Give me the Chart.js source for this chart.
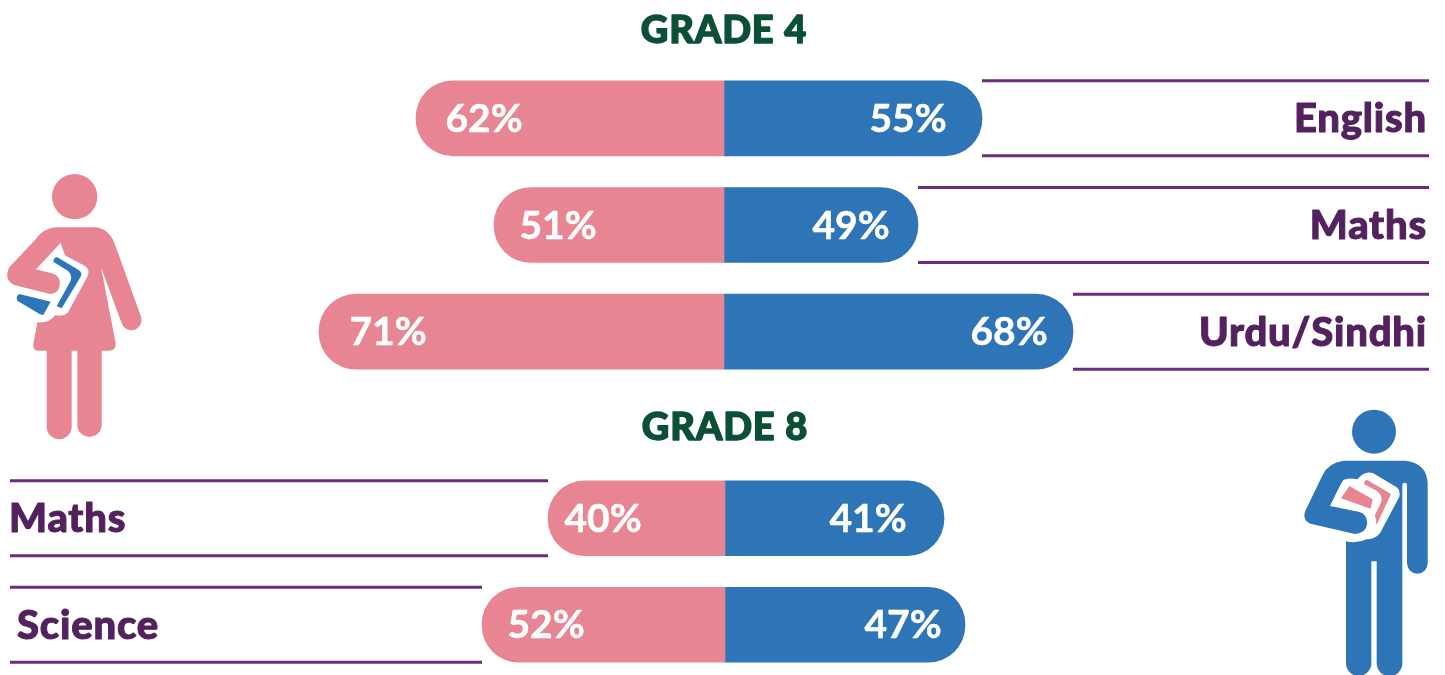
<!DOCTYPE html>
<html>
<head>
<meta charset="utf-8">
<title>Grade 4 and Grade 8 scores</title>
<script src="https://cdn.jsdelivr.net/npm/chart.js@4"></script>
<style>
    html, body { margin: 0; padding: 0; background: #fff; }
    #page { position: relative; width: 1445px; height: 675px; overflow: hidden; }
    #page canvas, #page svg { position: absolute; display: block; }
    #grade4Chart { left: 0; top: 0; }
    #grade8Chart { left: 0; top: 400px; }
    #girlIcon { left: 0; top: 160px; }
    #boyIcon { left: 1280px; top: 400px; }
</style>
</head>
<body>
<div id="page">
    <canvas id="grade4Chart" width="1445" height="390"></canvas>
    <canvas id="grade8Chart" width="1445" height="278"></canvas>

    <svg id="girlIcon" width="160" height="290" viewBox="0 0 480 870">
        <circle cx="224" cy="110" r="68" fill="#E78592"/>
        <path fill="#E78592" d="M165 202 H285 Q330 205 348 262 L423 470 A30 30 0 0 1 365 490 L303 322 L347 550 Q349 572 328 572 H305 V800 A37 37 0 0 1 232 800 V572 H215 V800 A37 37 0 0 1 140 800 V572 H115 Q98 572 100 552 L112 487 L200 300 Z"/>
        <path fill="#fff" d="M165 270 L255 318 Q272 330 262 350 L205 455 Q195 470 165 466 Q150 490 112 487 L100 460 L90 330 Z"/>
        <path fill="#2E75B8" d="M172 292 L236 330 Q248 338 242 350 L185 445 L170 439 L212 362 Q218 345 203 332 L160 305 Q163 290 172 292 Z"/>
        <path fill="#2E75B8" d="M58 402 L152 425 L130 465 L120 463 L52 422 Q46 408 58 402 Z"/>
        <path fill="#E78592" d="M165 202 Q130 205 105 240 L28 322 Q10 358 42 375 L150 402 Q178 402 180 368 Q178 345 155 340 L108 328 L190 240 Z"/>
    </svg>

    <svg id="boyIcon" width="165" height="275" viewBox="0 0 495 825">
        <circle cx="282" cy="95" r="66" fill="#2E75B8"/>
        <path fill="#2E75B8" d="M190 182 H375 Q440 188 443 250 V490 A31 31 0 0 1 381 490 V255 A7 7 0 0 0 367 255 V790 A38 38 0 0 1 290 790 V484 H274 V790 A38 38 0 0 1 198 790 V420 L150 300 Z"/>
        <path fill="#fff" d="M190 240 Q205 232 232 238 Q255 210 280 220 L350 262 Q362 272 358 290 L300 400 Q285 418 260 418 Q230 432 198 424 L140 320 Z"/>
        <path fill="#E78592" d="M208 258 L278 298 L272 326 L183 295 Z"/>
        <path fill="#E78592" d="M262 240 L333 282 L290 374 L285 345 L304 305 Q308 285 290 272 L252 252 Q252 240 262 240 Z"/>
        <path fill="#2E75B8" d="M190 182 Q145 188 128 225 L76 332 Q65 362 95 372 L225 402 Q258 400 262 370 Q260 340 235 335 L150 318 L200 215 Z"/>
    </svg>
</div>

<script>
// what the labels say
const grade4Subjects = ["English", "Maths", "Urdu/Sindhi"];
const grade4GirlsPct = [62, 51, 71];
const grade4BoysPct = [55, 49, 68];
const grade8Subjects = ["Maths", "Science"];
const grade8GirlsPct = [40, 52];
const grade8BoysPct = [41, 47];

// bars in the picture are not to scale with their labels, so lengths are read off separately
const grade4GirlsBar = [61.6, 46, 81];
const grade4BoysBar = [51.6, 38.8, 69.8];
const grade8GirlsBar = [35.4, 48.6];
const grade8BoysBar = [43.8, 48];

const PINK = "#E78592";
const BLUE = "#2E75B8";
const RULE = "#6C2C7C";
const SUBJECT = "#54215F";
const GREEN = "#0B5034";
const FONT = "Lato";

// heavier than the installed weights go, so fatten with a thin stroke
function heavyText(ctx, text, x, y, colour, weight) {
    ctx.fillStyle = colour;
    ctx.strokeStyle = colour;
    ctx.lineWidth = weight;
    ctx.lineJoin = "round";
    ctx.fillText(text, x, y);
    ctx.strokeText(text, x, y);
}

// ------------------------
// titles, rules and text on top of the bars
// ------------------------
const annotate = {
    id: "annotate",
    afterDatasetsDraw(chart, args, opts) {
        const ctx = chart.ctx;
        const x = chart.scales.x;
        const girls = chart.getDatasetMeta(0).data;
        const boys = chart.getDatasetMeta(1).data;

        ctx.save();
        ctx.textBaseline = "middle";

        ctx.textAlign = "center";
        ctx.font = `900 ${opts.titleSize}px ${FONT}`;
        ctx.letterSpacing = "0.8px";
        heavyText(ctx, opts.title, x.getPixelForValue(0), opts.titleY, GREEN, 1.4);

        chart.data.labels.forEach(function (subject, i) {
            const tip = opts.side === "right" ? boys[i].x : girls[i].x;
            const edge = opts.side === "right" ? 1429 : 10;
            const half = boys[i].height / 2;

            ctx.strokeStyle = RULE;
            ctx.lineWidth = 3;
            [boys[i].y - half, boys[i].y + half].forEach(function (y) {
                ctx.beginPath();
                ctx.moveTo(tip, y);
                ctx.lineTo(edge, y);
                ctx.stroke();
            });

            ctx.textAlign = opts.side;
            ctx.font = `900 40px ${FONT}`;
            ctx.letterSpacing = "0.8px";
            heavyText(ctx, subject, opts.subjectX[i], boys[i].y + 1, SUBJECT, 1);

            ctx.textAlign = "center";
            ctx.font = `700 39px ${FONT}`;
            ctx.letterSpacing = "0px";
            heavyText(ctx, opts.girlsPct[i] + "%", girls[i].x + opts.girlsInset[i], girls[i].y + 1, "#fff", 0.5);
            heavyText(ctx, opts.boysPct[i] + "%", boys[i].x - opts.boysInset[i], boys[i].y + 1, "#fff", 0.5);
        });
        ctx.restore();
    }
};

function drawGrade(id, subjects, girlsBar, boysBar, centre, bottomPad, opts) {
    const radius = 37;
    new Chart(document.getElementById(id).getContext("2d"), {
        type: "bar",
        data: {
            labels: subjects,
            datasets: [
                {
                    label: "Girls",
                    data: girlsBar.map(v => -v),
                    backgroundColor: PINK,
                    borderSkipped: false,
                    borderRadius: { topLeft: radius, bottomLeft: radius, topRight: 0, bottomRight: 0 }
                },
                {
                    label: "Boys",
                    data: boysBar,
                    backgroundColor: BLUE,
                    borderSkipped: false,
                    borderRadius: { topLeft: 0, bottomLeft: 0, topRight: radius, bottomRight: radius }
                }
            ]
        },
        options: {
            indexAxis: "y",
            responsive: false,
            animation: false,
            barThickness: 75,
            layout: { padding: { top: 65, bottom: bottomPad, left: 0, right: 0 } },
            scales: {
                x: { stacked: true, display: false, min: -centre / 5, max: (1445 - centre) / 5 },
                y: { stacked: true, display: false }
            },
            plugins: {
                legend: { display: false },
                tooltip: { enabled: false },
                annotate: opts
            }
        },
        plugins: [annotate]
    });
}

drawGrade("grade4Chart", grade4Subjects, grade4GirlsBar, grade4BoysBar, 724, 5, {
    title: "GRADE 4",
    titleSize: 38,
    titleY: 31,
    side: "right",
    subjectX: [1427, 1427, 1427],
    girlsPct: grade4GirlsPct,
    boysPct: grade4BoysPct,
    girlsInset: [68, 64, 69],
    boysInset: [74, 67, 64]
});

drawGrade("grade8Chart", grade8Subjects, grade8GirlsBar, grade8BoysBar, 725, 0, {
    title: "GRADE 8",
    titleSize: 38,
    titleY: 28,
    side: "left",
    subjectX: [9, 17],
    girlsPct: grade8GirlsPct,
    boysPct: grade8BoysPct,
    girlsInset: [55, 64],
    boysInset: [76, 62]
});
</script>
</body>
</html>
